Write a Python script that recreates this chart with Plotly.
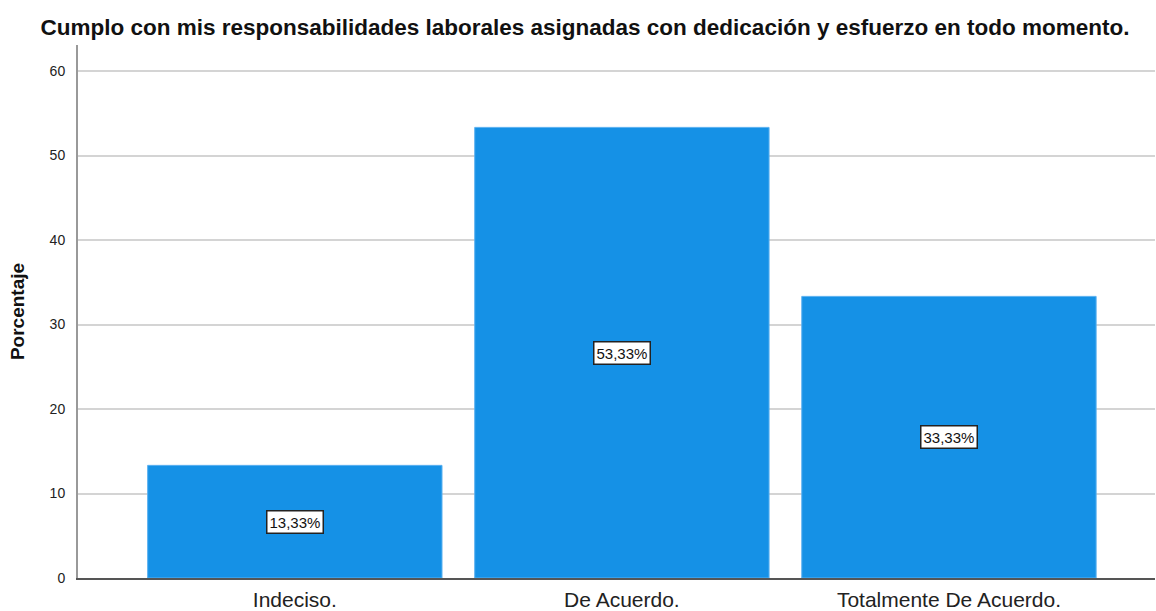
import plotly.graph_objects as go

categories = ["Indeciso.", "De Acuerdo.", "Totalmente De Acuerdo."]
percentages = [13.33, 53.33, 33.33]
y_ticks = [0, 10, 20, 30, 40, 50, 60]

BAR_COLOR = "#1591E6"
FONT = "Arial, Liberation Sans"

fig = go.Figure()
fig.add_trace(go.Bar(
    x=categories,
    y=percentages,
    width=0.9,
    marker=dict(color=BAR_COLOR, line=dict(color="#5AB0F0", width=1)),
    hoverinfo="skip",
))

# Boxed value labels centred in each bar
for cat, val in zip(categories, percentages):
    fig.add_annotation(
        x=cat, y=val / 2,
        text=f"{val:.2f}".replace(".", ",") + "%",
        showarrow=False,
        font=dict(family=FONT, size=15, color="#111"),
        bgcolor="white",
        bordercolor="#222",
        borderwidth=1.5,
        borderpad=2,
    )

fig.update_layout(
    width=1156, height=611,
    margin=dict(l=78, r=1, t=45, b=33),
    paper_bgcolor="white",
    plot_bgcolor="white",
    showlegend=False,
    title=dict(
        text="<b>Cumplo con mis responsabilidades laborales asignadas con dedicación y esfuerzo en todo momento.</b>",
        x=0.506, xanchor="center", y=0.955, yanchor="middle",
        font=dict(family=FONT, size=22.5, color="#111"),
    ),
    xaxis=dict(
        range=[-0.663, 2.63],
        showgrid=False,
        showline=True, linecolor="#555", linewidth=1.5,
        ticks="",
        tickfont=dict(family=FONT, size=21, color="#222"),
        ticklabelstandoff=2,
    ),
    yaxis=dict(
        range=[0, 63.08],
        tickvals=y_ticks,
        showgrid=True, gridcolor="#D4D4D4", gridwidth=2,
        showline=True, linecolor="#999", linewidth=2,
        zeroline=False,
        ticks="",
        ticklabelstandoff=8,
        tickfont=dict(family=FONT, size=14, color="#222"),
        title=dict(
            text="<b>Porcentaje</b>",
            font=dict(family=FONT, size=19, color="#111"),
            standoff=20,
        ),
    ),
)

fig.write_html("out.html")
